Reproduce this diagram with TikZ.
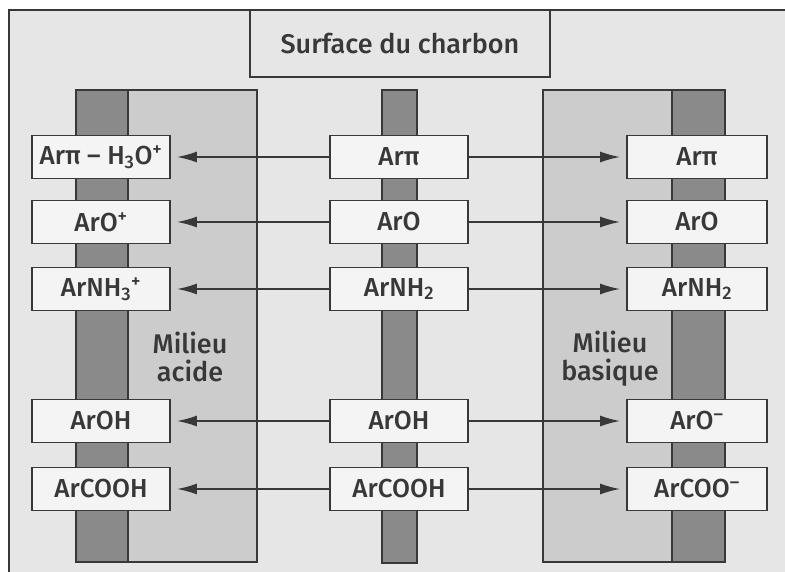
\documentclass[tikz,border=0pt]{standalone}
\usepackage{fontspec}
\setmainfont{Fira Sans}[UprightFont=* Medium]
\usetikzlibrary{arrows.meta}
\definecolor{paper}{HTML}{E6E6E6}
\definecolor{boxfill}{HTML}{F4F4F4}
\definecolor{lightstripe}{HTML}{CCCCCC}
\definecolor{darkstripe}{HTML}{8A8A8A}
\definecolor{ink}{HTML}{383838}
\tikzset{
  chem/.style={draw=ink, line width=1.8pt, fill=boxfill, text=ink,
    minimum height=43pt, inner sep=0pt, font=\fontsize{26}{28}\selectfont},
  lbox/.style={chem, minimum width=138pt},
  mbox/.style={chem, minimum width=138pt},
  rbox/.style={chem, minimum width=140pt},
  link/.style={draw=ink, line width=1.6pt, -{Latex[length=20pt,width=11pt]}, shorten >=6pt},
  stripeline/.style={draw=ink, line width=1.6pt},
  milieu/.style={text=ink, align=center, font=\fontsize{27}{28}\selectfont}
}
\begin{document}
\begin{tikzpicture}[x=1pt,y=-1pt]
\useasboundingbox (0,0) rectangle (785,572);
\fill[white] (0,0) rectangle (785,572);
\fill[paper] (9,10) rectangle (785,572);
\draw[stripeline] (9,572) -- (9,10) -- (785,10);
% title
\node[draw=ink, line width=1.8pt, fill=paper, text=ink, minimum width=300pt, minimum height=67pt,
  inner sep=0pt, font=\fontsize{27}{29}\selectfont] (title) at (400,43.5) {Surface du charbon};
% left stripes
\fill[darkstripe] (76,90) rectangle (128,562);
\fill[lightstripe] (128,90) rectangle (257,562);
\draw[stripeline] (76,90) rectangle (257,562);
\draw[stripeline] (128,90) -- (128,562);
% middle stripe
\fill[darkstripe] (382,90) rectangle (417,563);
\draw[stripeline] (382,90) rectangle (417,563);
% right stripes
\fill[lightstripe] (543,90) rectangle (672,562);
\fill[darkstripe] (672,90) rectangle (725,562);
\draw[stripeline] (543,90) rectangle (725,562);
\draw[stripeline] (672,90) -- (672,562);
% milieu labels
\node[milieu] (acide) at (190,357) {Milieu\\acide};
\node[milieu] (basique) at (610,359) {Milieu\\basique};
% rows
\node[lbox] (l1) at (101,157) {Arπ – H\textsubscript{3}O\textsuperscript{+}};
\node[mbox] (m1) at (399,157) {Arπ};
\node[rbox] (r1) at (697,157) {Arπ};
\node[lbox] (l2) at (101,222) {ArO\textsuperscript{+}};
\node[mbox] (m2) at (399,222) {ArO};
\node[rbox] (r2) at (697,222) {ArO};
\node[lbox] (l3) at (101,289) {ArNH\textsubscript{3}\textsuperscript{+}};
\node[mbox] (m3) at (399,289) {ArNH\textsubscript{2}};
\node[rbox] (r3) at (697,289) {ArNH\textsubscript{2}};
\node[lbox] (l4) at (101,421) {ArOH};
\node[mbox] (m4) at (399,421) {ArOH};
\node[rbox] (r4) at (697,421) {ArO\textsuperscript{–}};
\node[lbox] (l5) at (101,489) {ArCOOH};
\node[mbox] (m5) at (399,489) {ArCOOH};
\node[rbox] (r5) at (697,489) {ArCOO\textsuperscript{–}};
\foreach \i in {1,...,5}{
  \draw[link] (m\i.west) -- (l\i.east);
  \draw[link] (m\i.east) -- (r\i.west);
}
\end{tikzpicture}
\end{document}
